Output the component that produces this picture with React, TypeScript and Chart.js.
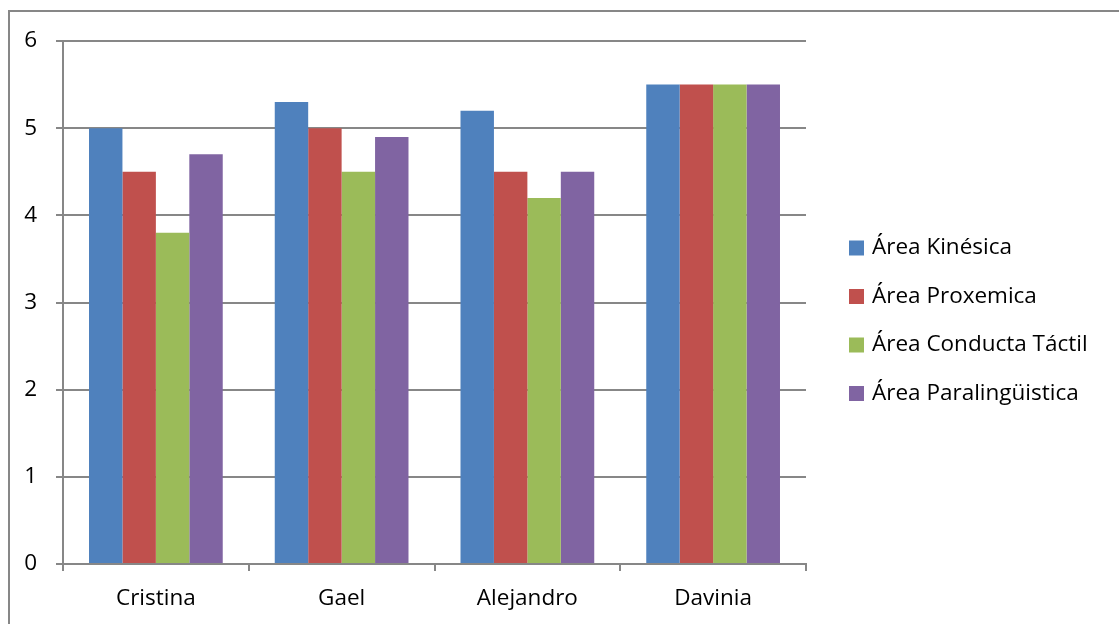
import React, { useEffect, useRef } from "react";
import { Chart, registerables } from "chart.js";
Chart.register(...registerables);

const categories = ["Cristina", "Gael", "Alejandro", "Davinia"];
const seriesNames = ["Área Kinésica", "Área Proxemica", "Área Conducta Táctil", "Área Paralingüistica"];
const kinesica = [5.0, 5.3, 5.2, 5.5];
const proxemica = [4.5, 5.0, 4.5, 5.5];
const tactil = [3.8, 4.5, 4.2, 5.5];
const paralinguistica = [4.7, 4.9, 4.5, 5.5];
const seriesColors = ["#4F81BD", "#C0504D", "#9BBB59", "#8064A2"];
const yMin = 0;
const yMax = 6;
const yStep = 1;

const FONT = "'Open Sans', 'Noto Sans', 'Liberation Sans', sans-serif";
const FONT_SIZE = 22.5;
const AXIS = "#878787";

const frame = {
  id: "frame",
  beforeDraw(chart: any) {
    const ctx = chart.ctx;
    ctx.save();
    ctx.fillStyle = "#ffffff";
    ctx.fillRect(0, 0, chart.width, chart.height);
    ctx.strokeStyle = AXIS;
    ctx.lineWidth = 2;
    ctx.beginPath();
    ctx.moveTo(8, 11);
    ctx.lineTo(chart.width, 11);
    ctx.moveTo(9, 10);
    ctx.lineTo(9, chart.height);
    ctx.stroke();
    ctx.restore();
  },
};

const sideLegend = {
  id: "sideLegend",
  afterDraw(chart: any) {
    const ctx = chart.ctx;
    ctx.save();
    ctx.font = `${FONT_SIZE}px ${FONT}`;
    ctx.textBaseline = "middle";
    ctx.textAlign = "left";
    chart.data.datasets.forEach((ds: any, i: number) => {
      const y = 248 + i * 48.5;
      ctx.fillStyle = ds.backgroundColor;
      ctx.fillRect(849, y - 7.5, 15, 15);
      ctx.fillStyle = "#000000";
      ctx.fillText(ds.label, 872, y);
    });
    ctx.restore();
  },
};

export default function App() {
  const ref = useRef<HTMLCanvasElement | null>(null);
  useEffect(() => {
    if (!ref.current) return;
    const values = [kinesica, proxemica, tactil, paralinguistica];
    const chart = new Chart(ref.current, {
      type: "bar",
      data: {
        labels: categories,
        datasets: values.map((v, i) => ({
          label: seriesNames[i],
          data: v,
          backgroundColor: seriesColors[i],
          borderWidth: 0,
          categoryPercentage: 0.72,
          barPercentage: 1,
        })),
      },
      options: {
        responsive: false,
        animation: false,
        devicePixelRatio: 1,
        layout: { padding: { left: 0, top: 41, right: 313, bottom: 0 } },
        plugins: {
          legend: { display: false },
          tooltip: { enabled: false },
          title: { display: false },
        },
        scales: {
          x: {
            grid: {
              offset: true,
              drawOnChartArea: false,
              drawTicks: true,
              tickLength: 7,
              color: AXIS,
              lineWidth: 2,
            },
            border: { color: AXIS, width: 2 },
            ticks: { color: "#000", font: { family: FONT, size: FONT_SIZE }, padding: 14 },
            afterFit: (s: any) => {
              s.height = 60;
            },
          },
          y: {
            min: yMin,
            max: yMax,
            grid: { color: AXIS, lineWidth: 2, tickLength: 7 },
            border: { color: AXIS, width: 2 },
            ticks: { stepSize: yStep, color: "#000", font: { family: FONT, size: FONT_SIZE }, padding: 19 },
            afterFit: (s: any) => {
              s.width = 63;
            },
          },
        },
      },
      plugins: [frame, sideLegend],
    });
    return () => chart.destroy();
  }, []);
  return (
    <div style={{ position: "absolute", left: 0, top: 0, width: 1119, height: 624 }}>
      <canvas ref={ref} width={1119} height={624} style={{ display: "block" }} />
    </div>
  );
}
